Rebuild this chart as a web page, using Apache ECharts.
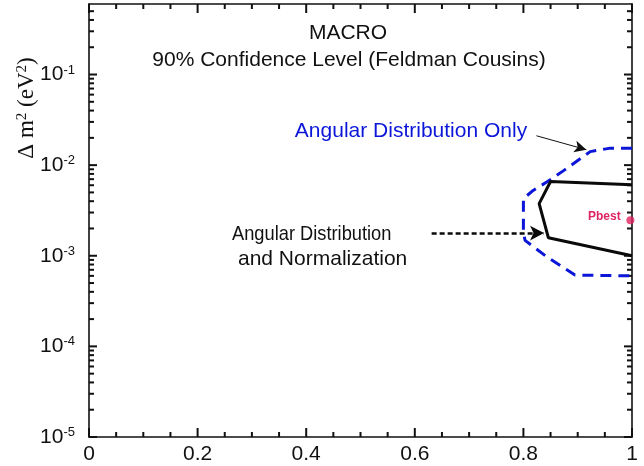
<!DOCTYPE html>
<html>
<head>
<meta charset="utf-8">
<script src="https://cdn.jsdelivr.net/npm/echarts@6/dist/echarts.min.js"></script>
<style>
  html, body { margin: 0; padding: 0; background: #fff; }
  #main { width: 644px; height: 466px; }
</style>
</head>
<body>
<div id="main"></div>
<script>
// sin^2(2theta) on x, delta m^2 on y (log)
let xMin = 0
let xMax = 1
let xMajor = [0, 0.2, 0.4, 0.6, 0.8, 1]
let yMin = 1e-5
let yMax = 0.6
let yDecades = [1e-5, 1e-4, 1e-3, 1e-2, 1e-1]

// angular distribution + normalization (solid black)
let normContour = [
  [1.0, 6.07e-3], [0.850, 6.6e-3], [0.829, 3.76e-3], [0.846, 1.58e-3], [1.0, 1.0e-3]
]
// angular distribution only (blue dashed)
let angContour = [
  [1.0, 1.54e-2], [0.96, 1.54e-2], [0.923, 1.41e-2], [0.874, 8.7e-3], [0.843, 6.5e-3],
  [0.818, 5.26e-3], [0.80, 4.27e-3], [0.80, 1.84e-3], [0.803, 1.48e-3], [0.843, 9.75e-4],
  [0.895, 6.12e-4], [1.0, 6.0e-4]
]
let pbest = [[0.997, 2.46e-3]]

// annotation arrows (data coords)
let arrowOnly = [[0.824, 2.11e-2], [0.916, 1.48e-2]]
let arrowNorm = [[0.631, 1.78e-3], [0.838, 1.78e-3]]

// minor tick values
let xMinor = []
for (let i = 0; i < xMajor.length - 1; i++) {
  for (let k = 1; k < 4; k++) xMinor.push(+(xMajor[i] + k * 0.05).toFixed(2))
}
let yMinor = []
yDecades.forEach(d => {
  for (let k = 2; k <= 9; k++) {
    if (k * d <= yMax) yMinor.push(+(k * d).toPrecision(3))
  }
})

const FONT = '"Liberation Sans", Arial, Helvetica, sans-serif'
const SERIF = '"Liberation Serif", "Times New Roman", serif'
const INK = '#111'
const frame = { show: true, onZero: false, lineStyle: { color: INK, width: 1.6 } }

// one custom series for all inward ticks, each item: [x, y, side, length]
// side 0 left, 1 right, 2 bottom, 3 top
let tickData = []
yDecades.forEach(v => { tickData.push([xMin, v, 0, 8], [xMax, v, 1, 8]) })
yMinor.forEach(v => { tickData.push([xMin, v, 0, 5], [xMax, v, 1, 5]) })
xMajor.forEach(v => { tickData.push([v, yMin, 2, 9], [v, yMax, 3, 9]) })
xMinor.forEach(v => { tickData.push([v, yMin, 2, 5], [v, yMax, 3, 5]) })

function renderTick(params, api) {
  const p = api.coord([api.value(0), api.value(1)])
  const side = api.value(2)
  const len = api.value(3)
  let x2 = p[0], y2 = p[1]
  if (side === 0) x2 += len
  else if (side === 1) x2 -= len
  else if (side === 2) y2 -= len
  else y2 += len
  return {
    type: 'line',
    shape: { x1: p[0], y1: p[1], x2: x2, y2: y2 },
    style: { stroke: INK, lineWidth: 2 }
  }
}

const chart = echarts.init(document.getElementById('main'))

chart.setOption({
  animation: false,
  grid: { left: 89, right: 12, top: 4, bottom: 29 },
  xAxis: [
    {
      type: 'value', position: 'bottom', min: xMin, max: xMax, interval: 0.2,
      axisLine: frame, splitLine: { show: false }, axisTick: { show: false },
      axisLabel: {
        show: true, margin: 7, fontFamily: FONT, fontSize: 21, color: '#111',
        showMinLabel: true, showMaxLabel: true,
        formatter: v => String(+v.toFixed(1))
      }
    },
    {
      type: 'value', position: 'top', min: xMin, max: xMax, interval: 0.2,
      axisLine: frame, splitLine: { show: false }, axisTick: { show: false }, axisLabel: { show: false }
    }
  ],
  yAxis: [
    {
      type: 'log', position: 'left', min: yMin, max: yMax,
      axisLine: frame, splitLine: { show: false }, axisTick: { show: false },
      axisLabel: {
        show: true,
        customValues: yDecades,
        margin: 14,
        formatter: function (v) {
          return '{b|10}{s|' + Math.round(Math.log10(v)) + '}'
        },
        rich: {
          b: { fontFamily: FONT, fontSize: 21, color: '#111', lineHeight: 22 },
          s: { fontFamily: FONT, fontSize: 13, color: '#111', verticalAlign: 'top', lineHeight: 13 }
        }
      }
    },
    {
      type: 'log', position: 'right', min: yMin, max: yMax,
      axisLine: frame, splitLine: { show: false }, axisTick: { show: false }, axisLabel: { show: false }
    }
  ],
  series: [
    {
      type: 'line',
      data: angContour,
      showSymbol: false,
      lineStyle: { color: '#0b16d8', width: 3, type: [11, 7] },
      markLine: {
        silent: true,
        symbol: 'none',
        label: { show: false },
        lineStyle: { color: '#111', width: 1, type: 'solid' },
        data: [[{ coord: arrowOnly[0] }, { coord: arrowOnly[1], symbol: 'arrow', symbolSize: [9, 12] }]]
      }
    },
    {
      type: 'line',
      data: normContour,
      showSymbol: false,
      lineStyle: { color: '#0a0a0a', width: 3 },
      markLine: {
        silent: true,
        symbol: 'none',
        label: { show: false },
        lineStyle: { color: '#0a0a0a', width: 2.5, type: [5, 3] },
        data: [[{ coord: arrowNorm[0] }, { coord: arrowNorm[1], symbol: 'arrow', symbolSize: [11, 14] }]]
      }
    },
    {
      type: 'scatter',
      data: pbest,
      symbolSize: 8,
      itemStyle: { color: '#de2460' }
    },
    {
      type: 'custom',
      data: tickData,
      clip: false,
      renderItem: renderTick
    }
  ],
  graphic: [
    {
      type: 'text', x: 348, y: 33,
      style: { text: 'MACRO', fontFamily: FONT, fontSize: 21, fill: '#111', align: 'center', verticalAlign: 'middle' }
    },
    {
      type: 'text', x: 349, y: 60,
      style: { text: '90% Confidence Level (Feldman Cousins)', fontFamily: FONT, fontSize: 21, fill: '#111', align: 'center', verticalAlign: 'middle' }
    },
    {
      type: 'text', x: 411, y: 131,
      style: { text: 'Angular Distribution Only', fontFamily: FONT, fontSize: 21, fill: '#0b16d8', align: 'center', verticalAlign: 'middle' }
    },
    {
      type: 'text', x: 232, y: 234, scaleX: 0.87,
      style: { text: 'Angular Distribution', fontFamily: FONT, fontSize: 21, fill: '#111', align: 'left', verticalAlign: 'middle' }
    },
    {
      type: 'text', x: 238, y: 259,
      style: { text: 'and Normalization', fontFamily: FONT, fontSize: 21, fill: '#111', align: 'left', verticalAlign: 'middle' }
    },
    {
      type: 'text', x: 588, y: 217,
      style: { text: 'Pbest', fontFamily: FONT, fontSize: 12, fontWeight: 'bold', fill: '#de2460', align: 'left', verticalAlign: 'middle' }
    },
    {
      type: 'text', x: 27, y: 108, rotation: Math.PI / 2,
      style: {
        text: '{n|\u0394 m}{s|2}{n| (eV}{s|2}{n|)}',
        align: 'center', verticalAlign: 'middle',
        rich: {
          n: { fontFamily: SERIF, fontSize: 23, fill: '#111', lineHeight: 24 },
          s: { fontFamily: SERIF, fontSize: 15, fill: '#111', verticalAlign: 'top', lineHeight: 15 }
        }
      }
    }
  ]
})
</script>
</body>
</html>
